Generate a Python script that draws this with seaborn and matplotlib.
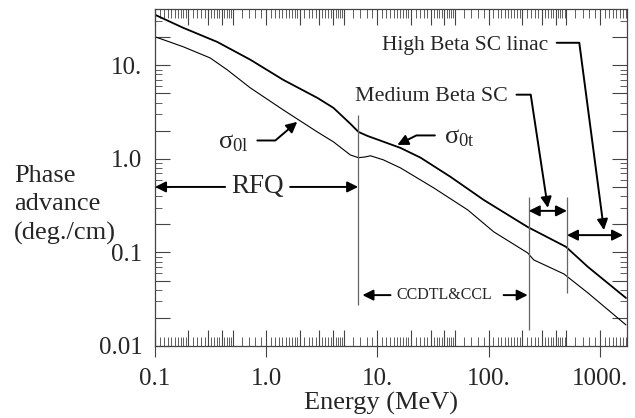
import numpy as np
import pandas as pd
import seaborn as sns
import matplotlib
matplotlib.use("Agg")
import matplotlib.pyplot as plt
from matplotlib.ticker import FixedLocator, FuncFormatter, NullLocator, NullFormatter

# ---------------- data ----------------
energy_t = [0.1, 0.179, 0.362, 0.718, 1.42, 2.88, 4.02, 5.71, 6.75, 8.13,
            16.1, 24.4, 45.5, 90.2, 224, 494, 780, 1714]
sigma_t = [34.7, 25.2, 17.8, 11.5, 7.0, 4.49, 3.51, 2.37, 1.94, 1.76,
           1.31, 1.03, 0.641, 0.364, 0.187, 0.115, 0.070, 0.0326]

energy_l = [0.1, 0.179, 0.313, 0.446, 0.718, 1.42, 2.88, 4.02, 5.71, 6.75,
            7.80, 8.65, 11.3, 16.1, 32.0, 64.7, 111, 224, 254, 474, 780, 1714]
sigma_l = [20.2, 15.8, 12.0, 8.95, 5.75, 3.34, 1.94, 1.52, 1.10, 1.03,
           1.05, 1.08, 0.976, 0.801, 0.490, 0.285, 0.166, 0.0988, 0.0832,
           0.0589, 0.0369, 0.0168]

# section boundaries (MeV): start, RFQ end, CCDTL&CCL end, Medium Beta SC end, max
section_bounds = [0.1, 6.7, 229, 505, 1750]
boundary_E = [6.7, 229, 505]
boundary_top = [2.96, 0.393, 0.393]
boundary_bottom = [0.0274, 0.0148, 0.0369]

x_decades = [0.1, 1, 10, 100, 1000]
x_labels = ['0.1', '1.0', '10.', '100.', '1000.']
y_decades = [0.01, 0.1, 1, 10]
y_labels = ['0.01', '0.1', '1.0', '10.']

# ---------------- style ----------------
sns.set_style('white')
plt.rcParams['font.family'] = ['Liberation Serif', 'DejaVu Serif']
plt.rcParams['mathtext.fontset'] = 'custom'
plt.rcParams['mathtext.rm'] = 'Liberation Serif'
plt.rcParams['mathtext.it'] = 'Liberation Serif'
plt.rcParams['mathtext.bf'] = 'Liberation Serif:bold'

W, H = 635, 418
fig = plt.figure(figsize=(W / 100, H / 100), dpi=100)
ax = fig.add_axes([155 / W, 72 / H, 472 / W, 337 / H])

df_t = pd.DataFrame({'E': energy_t, 'sigma': sigma_t})
df_l = pd.DataFrame({'E': energy_l, 'sigma': sigma_l})
sns.lineplot(data=df_t, x='E', y='sigma', ax=ax, color='black', lw=1.3,
             estimator=None, sort=False)
sns.lineplot(data=df_l, x='E', y='sigma', ax=ax, color='black', lw=0.8,
             estimator=None, sort=False)

ax.set_xscale('log')
ax.set_yscale('log')
ax.set_xlim(0.1, 1750)
ax.set_ylim(0.01, 40)
ax.set_xlabel('')
ax.set_ylabel('')

# section boundary lines
ax.vlines(boundary_E, boundary_bottom, boundary_top, color='#666666', lw=0.9)

# ---------------- ticks ----------------
spine_col = '#444444'
for s in ax.spines.values():
    s.set_color(spine_col)
    s.set_linewidth(0.9)

xl = dict(zip(x_decades, x_labels))
yl = dict(zip(y_decades, y_labels))

def near_label(v, mapping):
    for k, lab in mapping.items():
        if abs(np.log10(v) - np.log10(k)) < 1e-6:
            return lab
    return ''

x_major = [d * m for d in x_decades for m in (1, 2, 3, 4, 5) if d * m <= 1750]
x_minor = []
mults = list(np.arange(1.1, 1.95, 0.1)) + [2.2, 2.4, 2.6, 2.8, 3.2, 3.4, 3.6, 3.8,
                                           4.2, 4.4, 4.6, 4.8, 6, 7, 8, 9]
for d in x_decades:
    x_minor += [d * m for m in mults if d * m <= 1750]
ax.xaxis.set_major_locator(FixedLocator(x_major))
ax.xaxis.set_minor_locator(FixedLocator(x_minor))
ax.xaxis.set_major_formatter(FuncFormatter(lambda v, p: near_label(v, xl)))
ax.xaxis.set_minor_formatter(NullFormatter())

y_major = [d * m for d in y_decades for m in (1, 2, 5) if d * m <= 40]
y_minor = [d * m for d in y_decades for m in (3, 4, 6, 7, 8, 9) if d * m <= 40]
ax.yaxis.set_major_locator(FixedLocator(y_major))
ax.yaxis.set_minor_locator(FixedLocator(y_minor))
ax.yaxis.set_major_formatter(FuncFormatter(lambda v, p: near_label(v, yl)))
ax.yaxis.set_minor_formatter(NullFormatter())

ax.tick_params(axis='x', which='major', direction='in', length=11.5, width=0.8,
               color=spine_col, top=True, bottom=True, labelsize=18, pad=16)
ax.tick_params(axis='x', which='minor', direction='in', length=6.2, width=0.6,
               color=spine_col, top=True, bottom=True)
ax.tick_params(axis='y', which='major', direction='in', length=10.8, width=0.8,
               color=spine_col, left=True, right=True, labelsize=18, pad=9)
ax.tick_params(axis='y', which='minor', direction='in', length=5.0, width=0.6,
               color=spine_col, left=True, right=True)

# outward part of the decade ticks on the bottom axis
sec = ax.secondary_xaxis('bottom')
sec.xaxis.set_major_locator(FixedLocator(x_decades))
sec.xaxis.set_minor_locator(NullLocator())
sec.xaxis.set_major_formatter(NullFormatter())
sec.xaxis.set_minor_formatter(NullFormatter())
sec.tick_params(axis='x', which='major', direction='out', length=8, width=0.8,
                color=spine_col, labelbottom=False)
for s in sec.spines.values():
    s.set_visible(False)

# ---------------- annotations ----------------
blend = ('data', 'axes fraction')
dbl = dict(arrowstyle='<|-|>', color='black', lw=1.4, mutation_scale=16,
           shrinkA=0, shrinkB=0)
one = dict(arrowstyle='-|>', color='black', lw=1.4, mutation_scale=16,
           shrinkA=0, shrinkB=0)

# RFQ
ax.text(0.83, 0.472, 'RFQ', transform=ax.get_xaxis_transform(), ha='center',
        va='center', fontsize=19.5)
ax.annotate('', xy=(section_bounds[0], 0.472), xycoords=blend,
            xytext=(0.427, 0.472), textcoords=blend, arrowprops=one)
ax.annotate('', xy=(section_bounds[1], 0.472), xycoords=blend,
            xytext=(1.64, 0.472), textcoords=blend, arrowprops=one)

# CCDTL&CCL
ax.text(40.2, 0.151, 'CCDTL&CCL', transform=ax.get_xaxis_transform(),
        ha='center', va='center', fontsize=11.5)
ax.annotate('', xy=(7.33, 0.151), xycoords=blend,
            xytext=(13.1, 0.151), textcoords=blend, arrowprops=one)
ax.annotate('', xy=(224, 0.151), xycoords=blend,
            xytext=(136, 0.151), textcoords=blend, arrowprops=one)

# Medium Beta SC range
ax.annotate('', xy=(section_bounds[2], 0.401), xycoords=blend,
            xytext=(section_bounds[3], 0.401), textcoords=blend, arrowprops=dbl)
# High Beta SC range
ax.annotate('', xy=(section_bounds[3], 0.329), xycoords=blend,
            xytext=(1611, 0.329), textcoords=blend, arrowprops=dbl)

bent = dict(arrowstyle='-|>', color='black', lw=1.4, mutation_scale=16,
            shrinkA=4, shrinkB=0)

ax.annotate('High Beta SC linac', xy=(1086, 0.344), xycoords=blend,
            xytext=(340, 0.893), textcoords=blend, ha='right', va='center',
            fontsize=15.5,
            arrowprops=dict(bent, relpos=(0.5, 0.62),
                            connectionstyle='angle,angleA=0,angleB=97.5,rad=0'))
ax.annotate('Medium Beta SC', xy=(340, 0.41), xycoords=blend,
            xytext=(148, 0.739), textcoords=blend, ha='right', va='center',
            fontsize=15.8,
            arrowprops=dict(bent, relpos=(0.5, 0.62),
                            connectionstyle='angle,angleA=0,angleB=98.6,rad=0'))

ax.annotate(r'$\sigma_{\mathrm{0t}}$', xy=(15.1, 1.41), xycoords='data',
            xytext=(39.4, 0.617), textcoords=blend, ha='left', va='center',
            fontsize=19,
            arrowprops=dict(bent, relpos=(0.5, 0.62),
                            connectionstyle='angle,angleA=0,angleB=26.6,rad=0'))
ax.annotate(r'$\sigma_{\mathrm{0l}}$', xy=(1.90, 2.49), xycoords='data',
            xytext=(0.37, 0.602), textcoords=blend, ha='left', va='center',
            fontsize=19,
            arrowprops=dict(bent, relpos=(0.5, 0.62),
                            connectionstyle='angle,angleA=0,angleB=40.4,rad=0'))

# axis titles
fig.text(14 / W, 1 - 205 / H, 'Phase\nadvance\n(deg./cm)', ha='left', va='center',
         fontsize=19, linespacing=1.38)
fig.text(381 / W, 1 - 403 / H, 'Energy (MeV)', ha='center', va='center',
         fontsize=19)

fig.savefig('out.png', dpi=100)
